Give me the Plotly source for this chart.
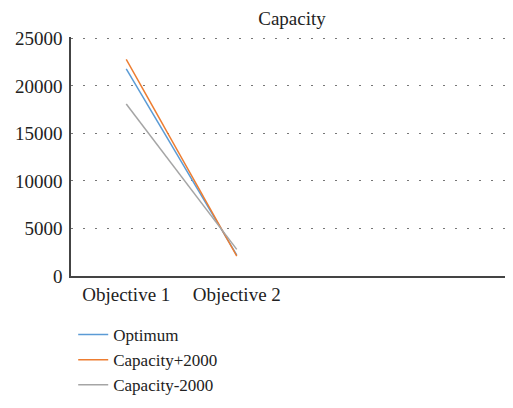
import plotly.graph_objects as go

categories = ["Objective 1", "Objective 2", " ", "  "]
optimum = [21800, 2200, None, None]
cap_plus = [22800, 2100, None, None]
cap_minus = [18100, 2800, None, None]

FONT = "Liberation Serif"
FS = 19
W, H = 505, 400  # page body adds an 8px margin
fig = go.Figure()
for name, vals, color in [("Optimum", optimum, "#5B9BD5"),
                          ("Capacity+2000", cap_plus, "#ED7D31"),
                          ("Capacity-2000", cap_minus, "#A5A5A5")]:
    fig.add_trace(go.Scatter(x=categories, y=vals, mode="lines", name=name,
                             line=dict(color=color, width=1.5)))

fig.update_layout(
    width=W, height=H,
    margin=dict(l=63, r=0, t=28.5, b=132, autoexpand=False),
    paper_bgcolor="white", plot_bgcolor="white",
    font=dict(family=FONT, size=FS, color="#222"),
    title=dict(text="Capacity", x=0.5, xref="paper", xanchor="center", y=1 - 10 / H,
               yref="container", yanchor="middle",
               font=dict(family=FONT, size=FS, color="#222")),
    showlegend=True,
    legend=dict(orientation="v", x=0.005, xanchor="left", xref="paper",
                y=1 - 309 / H, yref="container", yanchor="top",
                font=dict(family=FONT, size=17, color="#222"),
                tracegroupgap=0, itemwidth=30, bgcolor="rgba(0,0,0,0)"),
    xaxis=dict(type="category", categoryorder="array", categoryarray=categories,
               range=[-0.5, 3.5], showgrid=False, showline=True, linecolor="#444",
               linewidth=1.5, ticks="", tickfont=dict(size=FS), zeroline=False),
    yaxis=dict(range=[0, 25150], tickvals=[0, 5000, 10000, 15000, 20000, 25000],
               tickformat="d", showgrid=True, gridcolor="#777",
               griddash="2px,10px", gridwidth=1, showline=True, linecolor="#444",
               linewidth=1.5, ticks="", zeroline=False, tickfont=dict(size=FS),
               ticklabelstandoff=3),
)
fig.write_html("out.html")
